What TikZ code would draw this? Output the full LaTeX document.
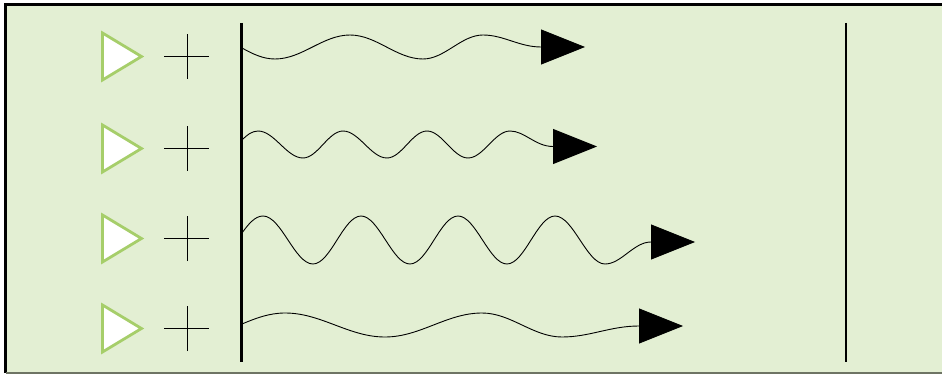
\documentclass[tikz,border=0pt]{standalone}
\usetikzlibrary{arrows.meta}
\definecolor{bgfill}{RGB}{227,239,211}
\definecolor{trigreen}{RGB}{166,206,106}
\definecolor{bottomgrey}{RGB}{110,116,100}
\tikzset{
  wave/.style={draw=black, line width=0.9pt, -{Triangle[length=44pt,width=35pt]}},
  bar/.style={draw=black, line width=2.4pt},
  plusmark/.style={draw=black, line width=1.3pt},
  tri/.style={draw=trigreen, fill=white, line width=2.8pt, line join=miter},
}
\begin{document}
\begin{tikzpicture}[x=1pt,y=-1pt]
\useasboundingbox (0,0) rectangle (942,374);
% background panel
\fill[bgfill] (5.5,4.5) rectangle (945,373);
\draw[black, line width=3pt] (5.5,373) -- (5.5,4.5) -- (945,4.5);
\draw[bottomgrey, line width=2pt] (5.5,373) -- (945,373);

% row anchors
\foreach \n/\y in {1/56.5,2/148.5,3/238.5,4/328.5}{
  \coordinate (r\n) at (0,\y);
  % triangle
  \draw[tri] (102.5,\y-23.5) coordinate (t\n a) -- (141.5,\y) coordinate (t\n tip) -- (102.5,\y+23.5) coordinate (t\n b) -- cycle;
  % plus sign
  \coordinate (p\n) at (187.5,\y);
  \draw[plusmark] ([xshift=-23.5pt]p\n) -- ([xshift=21.5pt]p\n);
  \draw[plusmark] ([yshift=-22.5pt]p\n) -- ([yshift=22.5pt]p\n);
}

% vertical bars
\coordinate (LT) at (241.5,23);
\coordinate (LB) at (241.5,362);
\coordinate (RT) at (846,23);
\coordinate (RB) at (846,362);
\draw[bar] (LT) -- (LB);
\draw[bar] (RT) -- (RB);

% wave start / end points
\coordinate (w1s) at (242,48);  \coordinate (w1e) at (585,47);
\coordinate (w2s) at (242,140); \coordinate (w2e) at (597,146.5);
\coordinate (w3s) at (242,233); \coordinate (w3e) at (695,242);
\coordinate (w4s) at (242,324); \coordinate (w4e) at (683,326);

% wave 1
\draw[wave] (w1s)
  .. controls (252.1,53.6) and (262.7,59) .. (275,59)
  .. controls (302.3,59) and (322.7,35) .. (350,35)
  .. controls (376.6,35) and (396.4,59) .. (423,59)
  .. controls (444.8,59) and (461.2,35) .. (483,35)
  .. controls (503.7,35) and (519.3,47) .. (541,47)
  -- (w1e);

% wave 2
\draw[wave] (w2s)
  .. controls (246.5,135.4) and (251.8,131) .. (258,131)
  .. controls (274.4,131) and (286.6,158) .. (303,158)
  .. controls (317.6,158) and (328.4,131) .. (343,131)
  .. controls (359,131) and (371,158) .. (387,158)
  .. controls (401.6,158) and (412.4,131) .. (427,131)
  .. controls (441.9,131) and (453.1,158) .. (468,158)
  .. controls (483.3,158) and (494.7,131) .. (510,131)
  .. controls (524.6,131) and (535.4,146.5) .. (553,146.5)
  -- (w2e);

% wave 3
\draw[wave] (w3s)
  .. controls (248.2,224.3) and (255,216) .. (263,216)
  .. controls (281.2,216) and (294.8,264) .. (313,264)
  .. controls (330.5,264) and (343.5,216) .. (361,216)
  .. controls (378.8,216) and (392.2,264) .. (410,264)
  .. controls (427.5,264) and (440.5,216) .. (458,216)
  .. controls (475.8,216) and (489.2,264) .. (507,264)
  .. controls (524.5,264) and (537.5,216) .. (555,216)
  .. controls (573.2,216) and (586.8,264) .. (605,264)
  .. controls (621.4,264) and (633.6,242) .. (651,242)
  -- (w3e);

% wave 4
\draw[wave] (w4s)
  .. controls (255.3,318.4) and (269.1,313) .. (285,313)
  .. controls (321.4,313) and (348.6,337) .. (385,337)
  .. controls (420.3,337) and (446.7,313) .. (482,313)
  .. controls (511.1,313) and (532.9,337) .. (562,337)
  .. controls (589.7,337) and (610.3,326) .. (639,326)
  -- (w4e);
\end{tikzpicture}
\end{document}
